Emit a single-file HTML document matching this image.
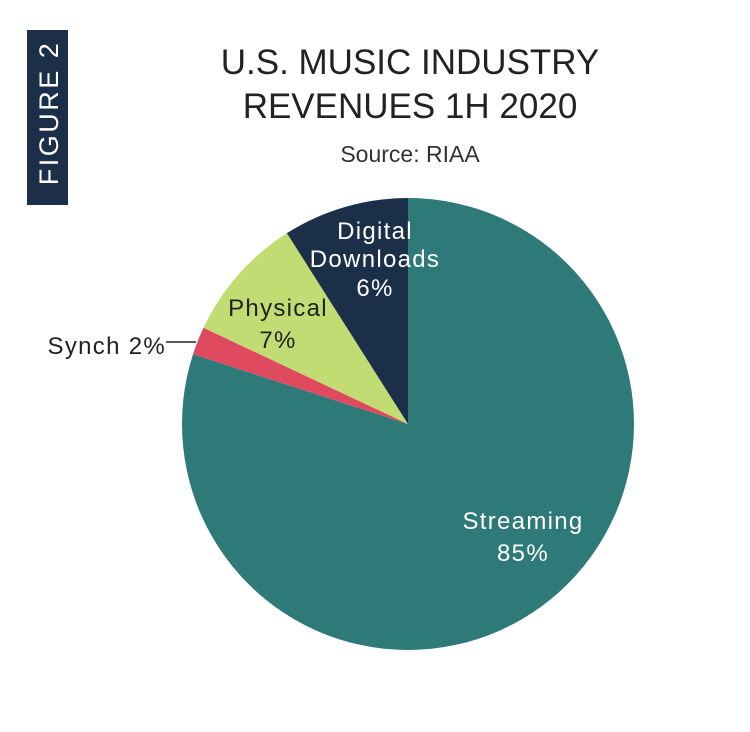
<!DOCTYPE html>
<html><head><meta charset="utf-8"><style>
html,body{margin:0;padding:0;background:#fff;}
svg{display:block;font-family:"Liberation Sans",sans-serif;}
</style></head><body>
<svg id="chart" width="750" height="732" viewBox="0 0 750 732">
<rect x="27" y="30" width="41" height="175" fill="#1c2f48"/>
<text transform="translate(58,113) rotate(-90)" text-anchor="middle" font-size="27" fill="#fff" letter-spacing="2.5">FIGURE 2</text>
<text x="410" y="74" text-anchor="middle" font-size="35" fill="#222">U.S. MUSIC INDUSTRY</text>
<text x="410" y="118" text-anchor="middle" font-size="35" fill="#222">REVENUES 1H 2020</text>
<text x="410" y="162" text-anchor="middle" font-size="23" fill="#333">Source: RIAA</text>
<g id="slices"></g>
<g id="labels"></g>
</svg>
<script>
const categories = ["Streaming", "Synch", "Physical", "Digital Downloads"];
const values = [80, 2, 9, 9];
const labelPct = ["85%", "2%", "7%", "6%"];
const colors = ["#2e7a78", "#e04a5f", "#c2dc74", "#1c2f48"];
const cx = 408, cy = 424, r = 226;
const NS = "http://www.w3.org/2000/svg";
const total = values.reduce((a, b) => a + b, 0);
function pt(frac, rad) { const a = frac * 2 * Math.PI; return [cx + rad * Math.sin(a), cy - rad * Math.cos(a)]; }
const g = document.getElementById("slices");
let acc = 0;
values.forEach((v, i) => {
  const f0 = acc / total, f1 = (acc + v) / total; acc += v;
  const p0 = pt(f0, r), p1 = pt(f1, r);
  const large = (f1 - f0) > 0.5 ? 1 : 0;
  const path = document.createElementNS(NS, "path");
  path.setAttribute("d", `M${cx},${cy} L${p0[0]},${p0[1]} A${r},${r} 0 ${large} 1 ${p1[0]},${p1[1]} Z`);
  path.setAttribute("fill", colors[i]);
  
  
  g.appendChild(path);
});
const L = document.getElementById("labels");
function txt(x, y, s, fill, anchor, name) {
  const t = document.createElementNS(NS, "text");
  t.setAttribute("x", x); t.setAttribute("y", y);
  t.setAttribute("font-size", "24"); t.setAttribute("fill", fill);
  t.setAttribute("letter-spacing", "1.3");
  t.setAttribute("text-anchor", anchor || "middle");
  t.textContent = s;
  
  
  L.appendChild(t);
}
txt(523, 529, categories[0], "#fff", "middle", "label-streaming");
txt(523, 561, labelPct[0], "#fff", "middle", "label-streaming-pct");
txt(375, 239, "Digital", "#fff", "middle", "label-digital");
txt(375, 267, "Downloads", "#fff", "middle", "label-downloads");
txt(375, 296, labelPct[3], "#fff", "middle", "label-digital-pct");
txt(278, 316, categories[2], "#222", "middle", "label-physical");
txt(278, 348, labelPct[2], "#222", "middle", "label-physical-pct");
txt(166, 354, categories[1] + " " + labelPct[1], "#222", "end", "label-synch");
const ln = document.createElementNS(NS, "line");
ln.setAttribute("x1", 166); ln.setAttribute("y1", 342); ln.setAttribute("x2", 196); ln.setAttribute("y2", 342);
ln.setAttribute("stroke", "#222"); ln.setAttribute("stroke-width", "1.5");


L.appendChild(ln);
</script>
</body></html>
